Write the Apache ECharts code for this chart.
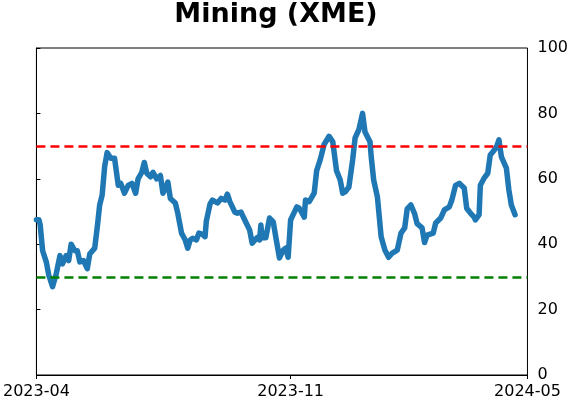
<!DOCTYPE html>
<html>
<head>
<meta charset="utf-8">
<script src="https://cdn.jsdelivr.net/npm/echarts@6/dist/echarts.min.js"></script>
<style>
  html, body {margin: 0; padding: 0; background: #fff;}
  #chart {width: 571px; height: 402px;}
</style>
</head>
<body>
<div id="chart"></div>
<script>
// days since 2023-04-01
const dayOffset = [
  0, 2, 3, 5, 8, 10, 13, 16, 19, 21, 24, 26, 28, 31, 33, 35, 38, 41, 43, 47,
  49, 51, 53, 55, 57, 60, 63, 66, 68, 71, 74, 77, 80, 82, 85, 87, 89, 92, 94, 97,
  100, 102, 104, 106, 108, 112, 114, 117, 120, 122, 124, 126, 129, 131, 134, 136, 137, 140, 142, 146,
  149, 152, 154, 156, 160, 162, 165, 168, 172, 174, 178, 180, 181, 182, 185, 188, 191, 193, 196, 199,
  201, 203, 205, 208, 210, 212, 216, 217, 220, 224, 226, 229, 232, 233, 236, 239, 242, 245, 247, 249,
  252, 255, 257, 260, 263, 265, 269, 270, 272, 275, 278, 281, 284, 287, 291, 294, 297, 299, 302, 305,
  307, 311, 313, 315, 320, 322, 326, 329, 333, 335, 338, 341, 345, 347, 350, 353, 354, 357, 358, 361,
  364, 366, 368, 371, 373, 375, 379, 381, 383, 386
];
const values = [
  47.5, 47.5, 46, 38, 34.5, 30.5, 27, 31, 36.5, 34, 36.5, 35, 40, 38, 38, 34.6, 35, 32.5, 37, 38.8,
  45, 52, 55, 63.7, 68, 66.3, 66.3, 58, 58.6, 55.6, 58, 58.6, 55.6, 60, 62, 65, 61.7, 60.6, 62, 60,
  61, 55.6, 57, 59, 54, 52.6, 49.5, 43.4, 41.3, 38.8, 41.3, 41.8, 41.3, 43.4, 43, 42.3, 47, 52.3, 53.5, 52.6,
  54, 53.5, 55.3, 53, 49.8, 49.5, 49.8, 47.4, 44.3, 40.3, 42, 41.3, 45.9, 42, 42, 48, 46.8, 42.3, 35.8, 38.2,
  38.8, 36, 47.4, 49.8, 51.4, 51, 48.3, 53.5, 53, 55.6, 62.5, 66, 70.5, 70.3, 73, 71.3, 62.5, 59.6, 55.6, 56,
  57.5, 65.7, 72.5, 75, 80, 74.3, 71.3, 66.7, 59.6, 54.4, 42.3, 38.2, 36, 37.3, 38.2, 43.4, 45, 50.8, 52, 49.3,
  46.3, 45, 40.5, 42.8, 43.4, 46.5, 48, 50.5, 51.4, 53.5, 58, 58.6, 57.2, 51, 49.5, 48.3, 47.4, 49, 58, 60.2,
  61.7, 67.3, 68.2, 69.7, 71.9, 66.7, 63.3, 56.6, 52, 49
];
const xTickDays = [0, 205, 396];
const xTickLabels = ['2023-04', '2023-11', '2024-05'];
const upperLevel = 70;
const lowerLevel = 30;

const chart = echarts.init(document.getElementById('chart'));
const font = 'DejaVu Sans';

chart.setOption({
  animation: false,
  title: {
    text: 'Mining (XME)',
    left: 271,
    top: -4,
    textAlign: 'center',
    textStyle: {fontFamily: font, fontSize: 27, fontWeight: 'bold', color: '#000'}
  },
  grid: {
    left: 35, right: 40, top: 48, bottom: 27,
    show: true, borderColor: '#000', borderWidth: 1, backgroundColor: 'transparent'
  },
  xAxis: {
    type: 'value',
    min: 0,
    max: 396,
    axisLine: {show: true, lineStyle: {color: '#000', width: 1}},
    axisTick: {show: true, length: 4, customValues: xTickDays, lineStyle: {color: '#000'}},
    axisLabel: {
      customValues: xTickDays,
      margin: 9,
      fontFamily: font, fontSize: 16, color: '#000',
      formatter: v => xTickLabels[xTickDays.indexOf(v)] || ''
    },
    splitLine: {show: false}
  },
  yAxis: {
    type: 'value',
    position: 'right',
    min: 0,
    max: 100,
    interval: 20,
    axisLine: {show: true, lineStyle: {color: '#000', width: 1}},
    axisTick: {show: true, length: 4, lineStyle: {color: '#000'}},
    axisLabel: {margin: 10, fontFamily: font, fontSize: 16, color: '#000'},
    splitLine: {show: false}
  },
  series: [{
    type: 'line',
    data: dayOffset.map((d, i) => [d, values[i]]),
    showSymbol: false,
    lineStyle: {color: '#1f77b4', width: 5.5, join: 'round', cap: 'round'},
    z: 2,
    markLine: {
      silent: true,
      symbol: 'none',
      label: {show: false},
      z: 3,
      data: [
        {yAxis: upperLevel, lineStyle: {color: '#ff0000', type: [9, 5], width: 2.5}},
        {yAxis: lowerLevel, lineStyle: {color: '#008000', type: [9, 5], width: 2.5}}
      ]
    }
  }]
});
</script>
</body>
</html>
